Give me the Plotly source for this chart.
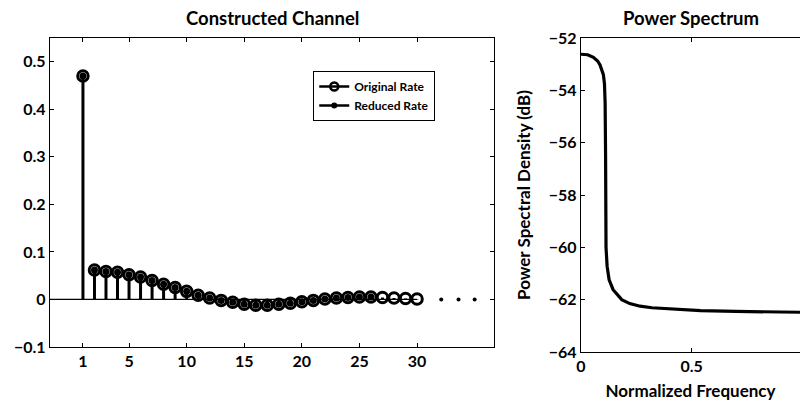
import plotly.graph_objects as go

# Channel taps (index n) and their amplitudes
tap_index = list(range(1, 31))
tap_values = [0.470, 0.062, 0.059, 0.057, 0.052, 0.047, 0.040, 0.032, 0.025, 0.017,
              0.009, 0.003, -0.002, -0.006, -0.010, -0.012, -0.012, -0.010, -0.008, -0.005,
              -0.002, 0.001, 0.003, 0.004, 0.005, 0.005, 0.004, 0.003, 0.002, 0.001]
reduced_count = 26  # taps kept at the reduced rate
continuation_x = [32.1, 33.6, 35.0]  # "..." after the last tap

# Power spectrum of the channel
freq = [0, 0.03, 0.056, 0.075, 0.086, 0.095, 0.101, 0.106, 0.109, 0.111, 0.112, 0.113,
        0.118, 0.127, 0.145, 0.184, 0.22, 0.267, 0.32, 0.387, 0.45, 0.54, 0.7, 0.85, 0.99]
psd_db = [-52.62, -52.64, -52.74, -52.88, -53.03, -53.22, -53.40, -53.75, -54.5, -56.5,
          -58.5, -60.0, -60.73, -61.24, -61.62, -62.0, -62.15, -62.25, -62.31, -62.35,
          -62.39, -62.42, -62.45, -62.47, -62.48]

left_ticks = [1, 5, 10, 15, 20, 25, 30]
left_yticks = [-0.1, 0, 0.1, 0.2, 0.3, 0.4, 0.5]
right_xticks = [0, 0.5, 1]
right_yticks = [-64, -62, -60, -58, -56, -54, -52]

X1_RANGE = [-1.86, 36.68]
FONT = "Lato"
INK = "black"


def stems(xs, ys):
    sx, sy = [], []
    for x, y in zip(xs, ys):
        sx += [x, x, None]
        sy += [0, y, None]
    return sx, sy


fig = go.Figure()

# stem baseline up to the last tap
fig.add_trace(go.Scatter(x=[X1_RANGE[0], tap_index[-1]], y=[0, 0], mode="lines",
                         line=dict(color=INK, width=1.2), showlegend=False,
                         hoverinfo="skip", xaxis="x", yaxis="y"))

sx, sy = stems(tap_index, tap_values)
fig.add_trace(go.Scatter(x=sx, y=sy, mode="lines", line=dict(color=INK, width=3),
                         showlegend=False, xaxis="x", yaxis="y"))
fig.add_trace(go.Scatter(x=tap_index, y=tap_values, mode="markers",
                         marker=dict(symbol="circle-open", size=10.5, color=INK,
                                     line=dict(width=3, color=INK)),
                         showlegend=False, xaxis="x", yaxis="y"))
fig.add_trace(go.Scatter(x=tap_index[:reduced_count], y=tap_values[:reduced_count],
                         mode="markers", marker=dict(symbol="circle", size=7, color=INK),
                         showlegend=False, xaxis="x", yaxis="y"))
fig.add_trace(go.Scatter(x=continuation_x, y=[0] * len(continuation_x), mode="markers",
                         marker=dict(symbol="circle", size=4, color=INK),
                         showlegend=False, xaxis="x", yaxis="y"))

# legend entries
fig.add_trace(go.Scatter(x=[None], y=[None], mode="lines+markers", name="Original Rate",
                         line=dict(color=INK, width=2.5),
                         marker=dict(symbol="circle-open", size=8, color=INK,
                                     line=dict(width=2.5, color=INK)),
                         xaxis="x", yaxis="y"))
fig.add_trace(go.Scatter(x=[None], y=[None], mode="lines+markers", name="Reduced Rate",
                         line=dict(color=INK, width=2.5),
                         marker=dict(symbol="circle", size=6, color=INK),
                         xaxis="x", yaxis="y"))

# power spectrum
fig.add_trace(go.Scatter(x=freq, y=psd_db, mode="lines", line=dict(color=INK, width=3.2),
                         showlegend=False, xaxis="x2", yaxis="y2"))

tickfont = dict(family=FONT, size=16, color=INK, weight="bold")
axis_common = dict(showgrid=False, zeroline=False, showline=True, linecolor=INK,
                   linewidth=1.3, ticks="inside", ticklen=4, tickcolor=INK,
                   tickfont=tickfont)
title_font = dict(family=FONT, size=17, color=INK, weight="bold")

fig.update_layout(
    width=800, height=404,
    margin=dict(l=50, r=0, t=38, b=52),
    paper_bgcolor="white", plot_bgcolor="white",
    font=dict(family=FONT, color=INK),
    xaxis=dict(domain=[0, 0.592], range=X1_RANGE, tickvals=left_ticks,
               mirror="ticks", anchor="y", **axis_common),
    yaxis=dict(domain=[0.016, 1], range=[-0.1, 0.55], tickvals=left_yticks,
               ticktext=["\u22120.1", "0", "0.1", "0.2", "0.3", "0.4", "0.5"],
               mirror="ticks", anchor="x", **axis_common),
    xaxis2=dict(domain=[0.708, 1], range=[0, 0.989], tickvals=right_xticks,
                mirror="ticks", anchor="y2",
                title=dict(text="Normalized Frequency", standoff=10, font=title_font),
                **axis_common),
    yaxis2=dict(domain=[0, 1], range=[-64, -52], tickvals=right_yticks,
                ticktext=["\u2212" + str(abs(v)) for v in right_yticks],
                anchor="x2",
                title=dict(text="Power Spectral Density (dB)", standoff=13, font=title_font),
                **axis_common),
    legend=dict(x=0.351, y=0.895, xanchor="left", yanchor="top",
                bordercolor=INK, borderwidth=1, bgcolor="white",
                font=dict(family=FONT, size=12, color=INK, weight="bold"),
                itemwidth=30, tracegroupgap=0),
    annotations=[
        dict(text="Constructed Channel", x=0.296, y=1, xref="paper", yref="paper",
             xanchor="center", yanchor="bottom", yshift=7, showarrow=False,
             font=dict(family=FONT, size=18.5, color=INK, weight="bold")),
        dict(text="Power Spectrum", x=0.8547, y=1, xref="paper", yref="paper",
             xanchor="center", yanchor="bottom", yshift=7, showarrow=False,
             font=dict(family=FONT, size=18.5, color=INK, weight="bold")),
    ],
)

fig.write_html("out.html")
